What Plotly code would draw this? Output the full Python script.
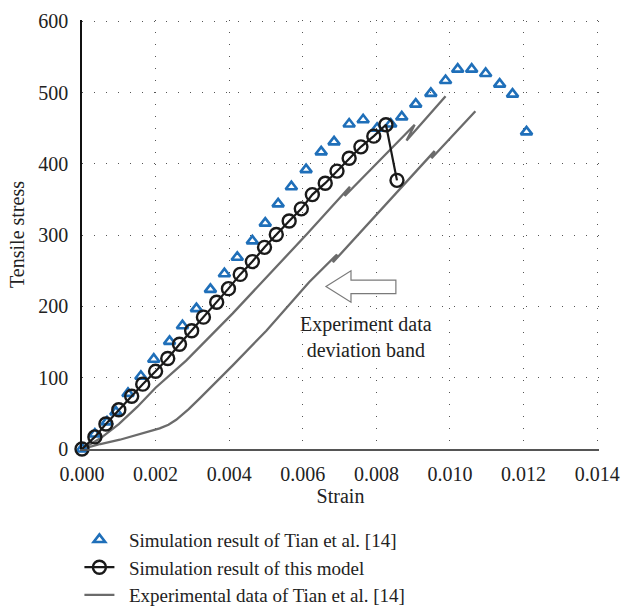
import plotly.graph_objects as go

# ---- data ----
tian_sim_strain = [0, 0.00035, 0.00068, 0.00092, 0.00125, 0.0016, 0.00195, 0.00238, 0.00273,
                   0.00311, 0.00349, 0.00387, 0.00422, 0.00463, 0.00498, 0.00533, 0.00569,
                   0.00609, 0.0065, 0.00685, 0.00726, 0.00764, 0.00802, 0.00839, 0.00869,
                   0.00907, 0.00948, 0.00988, 0.01021, 0.01059, 0.01097, 0.01135, 0.0117, 0.01208]
tian_sim_stress = [0, 21, 38, 52, 78, 102, 126, 151, 173, 197, 224, 246, 269, 292, 317, 344, 368,
                   392, 417, 431, 456, 462, 450, 456, 466, 484, 499, 517, 533, 533, 527, 512, 498, 445]

model_strain = [0, 0.00035, 0.00065, 0.001, 0.00135, 0.00165, 0.002, 0.00233, 0.00265, 0.00298,
                0.0033, 0.00366, 0.00398, 0.0043, 0.00463, 0.00496, 0.00528, 0.00563, 0.00596,
                0.00626, 0.00661, 0.00693, 0.00726, 0.00758, 0.00793, 0.00826, 0.00856]
model_stress = [0, 17, 35, 55, 74, 91, 109, 127, 147, 166, 185, 206, 225, 245, 263, 283, 301,
                320, 337, 357, 373, 390, 408, 424, 439, 455, 377]

exp_upper_strain = [0, 0.0005, 0.001, 0.0015, 0.002, 0.00283, 0.00409, 0.00612, 0.00728, 0.00714,
                    0.00904, 0.00882, 0.00988]
exp_upper_stress = [0, 15, 35, 59, 86, 124, 190, 302, 368, 355, 455, 433, 495]

exp_lower_strain = [0, 0.0005, 0.00103, 0.0015, 0.00211, 0.00235, 0.00256, 0.0029, 0.0032,
                    0.00409, 0.00501, 0.00617, 0.00693, 0.00682, 0.00958, 0.0095, 0.01069]
exp_lower_stress = [0, 7, 13, 20, 29, 34, 41, 56, 71, 117, 166, 234, 273, 262, 418, 408, 474]

x_ticks = [0, 0.002, 0.004, 0.006, 0.008, 0.010, 0.012, 0.014]
x_tick_labels = ["0.000", "0.002", "0.004", "0.006", "0.008", "0.010", "0.012", "0.014"]
y_ticks = [0, 100, 200, 300, 400, 500, 600]

legend_names = ["Simulation result of Tian et al. [14]",
                "Simulation result of this model",
                "Experimental data of Tian et al. [14]"]
annotation_text = "Experiment data<br>deviation band"

# arrow annotation geometry (data units)
arrow_tip = (0.00663, 228)
arrow_head_x = 0.00731
arrow_head_y = (250, 206)
arrow_tail_x = 0.00853
arrow_shaft_y = (237, 218)

FONT = "Liberation Serif"
BLUE = "#1f6fb9"
DARK = "#1a1a1a"
GRAY = "#6b6b6b"
PAD = "\u00a0\u00a0"  # small gap between legend symbol and text

fig = go.Figure()

fig.add_trace(go.Scatter(x=exp_upper_strain, y=exp_upper_stress, mode="lines",
                         line=dict(color=GRAY, width=2.3), name=PAD + legend_names[2],
                         legendrank=3, legendgroup="c"))
fig.add_trace(go.Scatter(x=exp_lower_strain, y=exp_lower_stress, mode="lines",
                         line=dict(color=GRAY, width=2.3), showlegend=False, legendgroup="c"))
fig.add_trace(go.Scatter(x=tian_sim_strain, y=tian_sim_stress, mode="markers",
                         marker=dict(symbol="triangle-up-open", size=10, color=BLUE,
                                     line=dict(width=2.6, color=BLUE)),
                         name=PAD + legend_names[0], legendrank=1, legendgroup="a",
                         cliponaxis=False))
fig.add_trace(go.Scatter(x=model_strain, y=model_stress, mode="lines+markers",
                         line=dict(color=DARK, width=2.2),
                         marker=dict(symbol="circle-open", size=13, color=DARK,
                                     line=dict(width=2.4, color=DARK)),
                         name=PAD + legend_names[1], legendrank=2, legendgroup="b",
                         cliponaxis=False))

# hollow arrow
tx, ty = arrow_tip
path = (f"M {tx},{ty} L {arrow_head_x},{arrow_head_y[0]} L {arrow_head_x},{arrow_shaft_y[0]} "
        f"L {arrow_tail_x},{arrow_shaft_y[0]} L {arrow_tail_x},{arrow_shaft_y[1]} "
        f"L {arrow_head_x},{arrow_shaft_y[1]} L {arrow_head_x},{arrow_head_y[1]} Z")
fig.add_shape(type="path", path=path, xref="x", yref="y",
              line=dict(color="#7a7a7a", width=1.2), fillcolor="white")

fig.add_annotation(x=0.00772, y=157, xref="x", yref="y", text=annotation_text,
                   showarrow=False, font=dict(family=FONT, size=20, color="#222"),
                   align="center")

grid = dict(showgrid=True, gridcolor="#555555", gridwidth=1, griddash="1px,11px")

# ranges padded by ~1.5px so the end gridlines (0.014 and 600) are drawn
fig.update_xaxes(range=[0, 0.01405], tickvals=x_ticks, ticktext=x_tick_labels,
                 showline=True, linecolor="#555555", linewidth=2, zeroline=False,
                 ticks="", ticklabelstandoff=6, ticklabeloverflow="allow",
                 title=dict(text="Strain", font=dict(family=FONT, size=20, color="#222"),
                            standoff=4),
                 tickfont=dict(family=FONT, size=20, color="#222"), **grid)
fig.update_yaxes(range=[0, 602], tickvals=y_ticks,
                 showline=True, linecolor="#111111", linewidth=1.6, zeroline=False,
                 ticks="", ticklabelstandoff=8, ticklabeloverflow="allow",
                 title=dict(text="Tensile stress", font=dict(family=FONT, size=20, color="#222"),
                            standoff=8),
                 tickfont=dict(family=FONT, size=20, color="#222"), **grid)

fig.update_layout(
    width=621, height=607,
    margin=dict(l=82, r=22, t=20, b=158, autoexpand=False),
    paper_bgcolor="white", plot_bgcolor="white",
    showlegend=True,
    legend=dict(x=-0.005, y=-0.167, xanchor="left", yanchor="top",
                font=dict(family=FONT, size=19, color="#222"),
                bgcolor="rgba(0,0,0,0)", tracegroupgap=0, traceorder="grouped"),
)

# remove the default page margin so the 621x607 figure fills the window exactly
fig.write_html("out.html", config={"displayModeBar": False},
               post_script="document.body.style.margin='0';"
                           "document.body.style.overflow='hidden';")
